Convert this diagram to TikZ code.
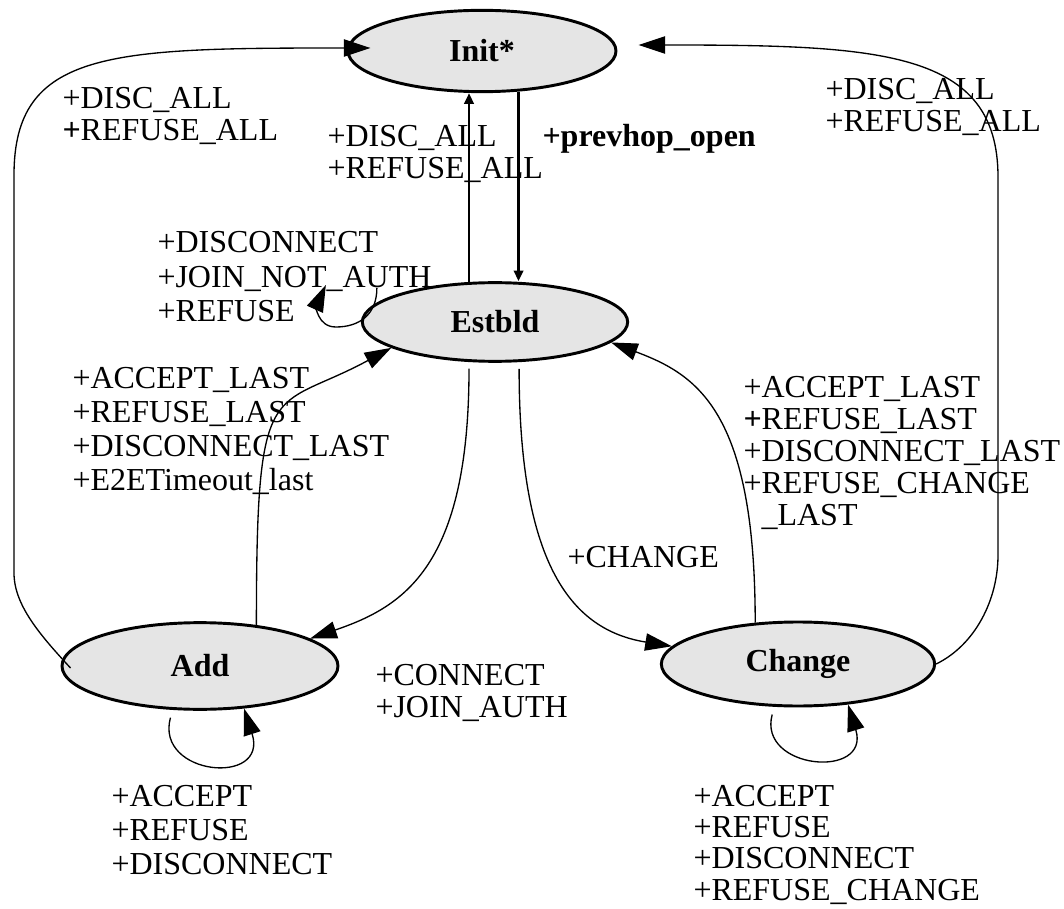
\documentclass[tikz,border=0pt]{standalone}
\usepackage{fontspec}
\setmainfont{Liberation Serif}
\usetikzlibrary{shapes.geometric,arrows.meta,calc}

\tikzset{every picture/.style={line width=0.75pt}}
\tikzset{
  state/.style={ellipse,draw,line width=2.2pt,fill=black!10,inner sep=0pt,
    font=\fontsize{24}{24}\selectfont\bfseries},
  trans/.style={line width=1pt,-{Triangle[length=20pt,width=13pt]}},
  vtrans/.style={line width=2pt,-{Triangle[length=8pt,width=7pt]}},
  lbl/.style={anchor=base west,inner sep=0pt,align=left,
    font=\fontsize{24}{24}\selectfont},
  lblwide/.style={lbl,font=\fontsize{24}{25.5}\selectfont},
}

\begin{document}
\begin{tikzpicture}[x=0.75pt,y=0.75pt,yscale=-1,xscale=1]
\useasboundingbox (0,0) rectangle (1064,909);

% States
\node[state,minimum width=201pt,minimum height=61pt] (init) at (482,51) {Init*};
\node[state,minimum width=199pt,minimum height=59pt] (estbld) at (495,322) {Estbld};
\node[state,minimum width=207pt,minimum height=65pt] (add) at (200,666) {Add};
\node[state,minimum width=205pt,minimum height=63pt] (change) at (798,664) {Change};

% Init <-> Estbld
\draw[vtrans] (estbld.123) -- (estbld.123 |- init.south);
\draw[vtrans] (init.-48) -- (init.-48 |- estbld.north);

% big loops back to Init
\draw[trans] ($(add.west)+(10,2)$) .. controls (40,635) and (14,605) .. (14,573)
  -- (14,175) .. controls (14,50) and (111,48) .. ($(init.west)+(24,-3)$);
\draw[trans] (change.east) .. controls (975,645) and (998,600) .. (998,555)
  -- (998,177) .. controls (998,50) and (880,45) .. ($(init.east)+(21,-6)$);

% Estbld self loop
\draw[trans] ($(estbld.west)+(16,-34)$) .. controls +(0,27) and +(23,0) .. ($(estbld.west)+(-25,5)$)
  .. controls +(-19,0) and +(-9,20) .. ($(estbld.west)+(-35,-37)$);

% Estbld <-> Add, Estbld <-> Change
\draw[trans,shorten <=5pt] (estbld.-123) .. controls +(0,204) and +(94,-32) .. (add.14);
\draw[trans] (add.36) .. controls +(0,-256) and +(-120,65) .. (estbld.-166);
\draw[trans,shorten <=5pt] (estbld.-59) .. controls +(0,205) and +(-99,-16) .. (change.172);
\draw[trans] (change.136) .. controls +(0,-213) and +(85,32) .. (estbld.-10);

% self loops
\draw[trans,shorten <=6pt] (add.-122) .. controls +(-18,66) and +(25,78) .. (add.-44);
\draw[trans,shorten <=6pt] (change.-119) .. controls +(-17,63) and +(23,75) .. (change.-39);

% Labels (placed at the baseline of their last line)
\node[lbl] (discallL) at (62,141) {+DISC\_ALL\\\textbf{+}REFUSE\_ALL};
\node[lbl] (discallR) at (825,132) {+DISC\_ALL\\+REFUSE\_ALL};
\node[lbl] (discallM) at (327,179) {+DISC\_ALL\\+REFUSE\_ALL};
\node[lbl,font=\fontsize{24}{24}\selectfont\bfseries] (prevhop) at (542,147) {+prevhop\_open};
\node[lbl,font=\fontsize{24}{26}\selectfont] (estloop) at (157,322) {+DISCONNECT\\+JOIN\_NOT\_AUTH\\+REFUSE};
\node[lblwide] (lastL) at (72,490) {+ACCEPT\_LAST\\+REFUSE\_LAST\\+DISCONNECT\_LAST\\+E2ETimeout\_last};
\node[lbl] (lastR) at (743,525) {+ACCEPT\_LAST\\\textbf{+}REFUSE\_LAST\\+DISCONNECT\_LAST\\+REFUSE\_CHANGE\\\phantom{+}\_LAST};
\node[lbl] (chg) at (567,567) {+CHANGE};
\node[lbl] (conn) at (375,717) {+CONNECT\\+JOIN\_AUTH};
\node[lblwide] (addloop) at (111,874) {+ACCEPT\\+REFUSE\\+DISCONNECT};
\node[lbl,font=\fontsize{24}{23.5}\selectfont] (chgloop) at (693,900) {+ACCEPT\\+REFUSE\\+DISCONNECT\\+REFUSE\_CHANGE};

\end{tikzpicture}
\end{document}
